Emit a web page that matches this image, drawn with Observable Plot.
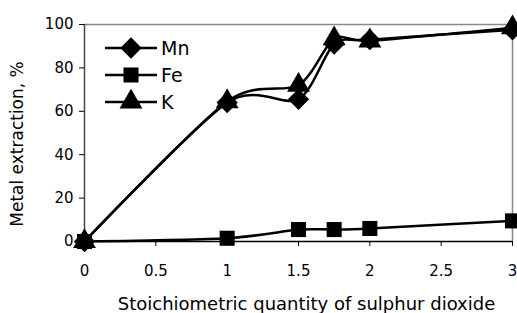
<!DOCTYPE html>
<html><head><meta charset="utf-8">
<script src="https://cdn.jsdelivr.net/npm/d3@7"></script>
<script src="https://cdn.jsdelivr.net/npm/@observablehq/plot@0.6"></script>
<style>
body{margin:0;background:#fff;font-family:"DejaVu Sans",sans-serif;}
#wrap{position:relative;width:517px;height:313px;}
#legend{position:absolute;left:104px;top:36px;}
</style></head><body>
<div id="wrap"><div id="chart"></div><div id="legend"></div></div>
<script>
const xs = [0, 1, 1.5, 1.75, 2, 3];
const mn = [0, 64, 65.5, 91, 93, 97.5];
const fe = [0, 1.5, 5.5, 5.5, 6, 9.5];
const k  = [0, 64.5, 72, 93.5, 92.5, 98.5];
const seriesNames = ["Mn", "Fe", "K"];
const symbols = ["square", "square", "triangle"];
const rotations = [45, 0, 0];
const xTicks = [0, 0.5, 1, 1.5, 2, 2.5, 3];
const yTicks = [0, 20, 40, 60, 80, 100];
const xLabel = "Stoichiometric quantity of sulphur dioxide";
const yLabel = "Metal extraction, %";

const vals = [mn, fe, k];
const data = [];
seriesNames.forEach((s, i) => xs.forEach((x, j) => data.push({series: s, x, y: vals[i][j], sym: symbols[i], rot: rotations[i]})));

const font = "'DejaVu Sans', sans-serif";
const chart = Plot.plot({
  width: 517, height: 313,
  marginLeft: 84, marginRight: 5, marginTop: 24, marginBottom: 72,
  style: {fontFamily: font, fontSize: "15px", color: "#000", background: "#fff"},
  x: {domain: [0, 3]},
  y: {domain: [0, 100]},
  marks: [
    Plot.ruleY([100], {stroke: "#888", strokeWidth: 1.5}),
    Plot.ruleX([3], {stroke: "#888", strokeWidth: 1.5}),
    Plot.ruleY([0], {stroke: "#000", strokeWidth: 1.5}),
    Plot.ruleX([0], {stroke: "#444", strokeWidth: 1.5}),
    Plot.axisX({ticks: xTicks, tickFormat: d => String(d), tickSize: 5, tickPadding: 19, fontSize: 15, label: null}),
    Plot.axisY({ticks: yTicks, tickSize: 5, tickPadding: 6, fontSize: 15, label: null}),
    Plot.text([xLabel], {text: d => d, frameAnchor: "bottom", textAnchor: "middle", lineAnchor: "bottom", dx: 8, dy: 68, fontSize: 18, fill: "#000"}),
    Plot.text([yLabel], {text: d => d, frameAnchor: "left", textAnchor: "middle", rotate: -90, dx: -67, dy: 11, fontSize: 17, fill: "#000"}),
    Plot.line(data, {x: "x", y: "y", z: "series", stroke: "#000", strokeWidth: 2.5, curve: "cardinal", tension: 0.2}),
    Plot.dot(data, {x: "x", y: "y", symbol: "sym", rotate: "rot", fill: "#000", r: 8.5})
  ]
});
document.getElementById("chart").appendChild(chart);

// legend
const lg = d3.select("#legend").append("svg").attr("width", 120).attr("height", 90)
  .style("font-family", font).style("font-size", "19px");
const symMap = {square: d3.symbolSquare, triangle: d3.symbolTriangle};
seriesNames.forEach((s, i) => {
  const g = lg.append("g").attr("transform", `translate(0,${12 + i * 27})`);
  g.append("line").attr("x1", 1).attr("x2", 53).attr("stroke", "#000").attr("stroke-width", 2.5);
  g.append("path").attr("transform", `translate(27,0) rotate(${rotations[i]})`)
    .attr("d", d3.symbol(symMap[symbols[i]], Math.PI * 72)()).attr("fill", "#000");
  g.append("text").attr("x", 57).attr("y", 7).text(s);
});
</script>
</body></html>
